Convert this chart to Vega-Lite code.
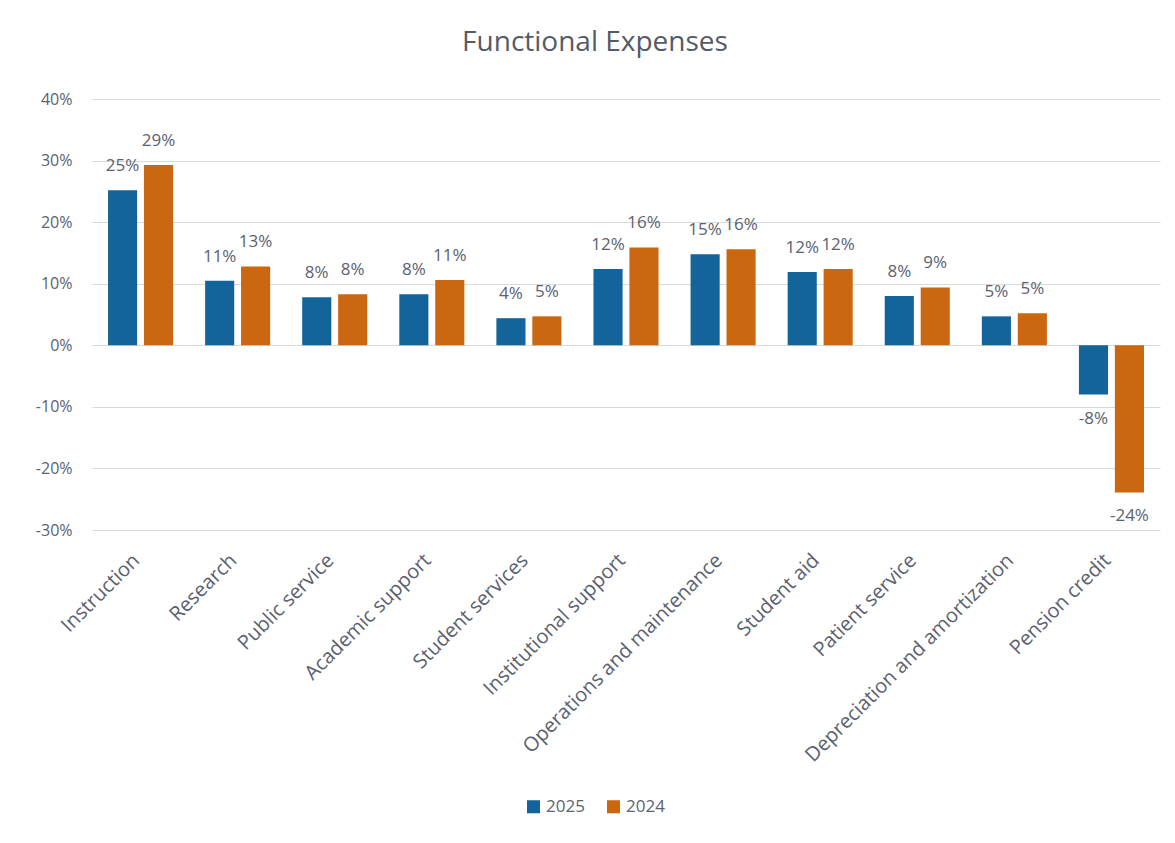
{
  "$schema": "https://vega.github.io/schema/vega-lite/v6.json",
  "autosize": {"type": "none"},
  "width": 1068,
  "height": 431,
  "padding": {"left": 92, "top": 99, "right": 15, "bottom": 313},
  "background": "white",
  "config": {
    "view": {"stroke": null},
    "locale": {"number": {"decimal": ".", "thousands": ",", "grouping": [3], "currency": ["$", ""], "minus": "-"}}
  },
  "title": {
    "text": "Functional Expenses",
    "fontSize": 28,
    "font": "Open Sans",
    "fontWeight": "normal",
    "color": "#545b68",
    "anchor": "middle",
    "offset": 34,
    "dx": -31
  },
  "data": {
    "values": [
      {"category": "Instruction", "year": "2025", "value": 0.252},
      {"category": "Instruction", "year": "2024", "value": 0.293},
      {"category": "Research", "year": "2025", "value": 0.105},
      {"category": "Research", "year": "2024", "value": 0.128},
      {"category": "Public service", "year": "2025", "value": 0.078},
      {"category": "Public service", "year": "2024", "value": 0.083},
      {"category": "Academic support", "year": "2025", "value": 0.083},
      {"category": "Academic support", "year": "2024", "value": 0.106},
      {"category": "Student services", "year": "2025", "value": 0.044},
      {"category": "Student services", "year": "2024", "value": 0.047},
      {"category": "Institutional support", "year": "2025", "value": 0.124},
      {"category": "Institutional support", "year": "2024", "value": 0.159},
      {"category": "Operations and maintenance", "year": "2025", "value": 0.148},
      {"category": "Operations and maintenance", "year": "2024", "value": 0.156},
      {"category": "Student aid", "year": "2025", "value": 0.119},
      {"category": "Student aid", "year": "2024", "value": 0.124},
      {"category": "Patient service", "year": "2025", "value": 0.080},
      {"category": "Patient service", "year": "2024", "value": 0.094},
      {"category": "Depreciation and amortization", "year": "2025", "value": 0.047},
      {"category": "Depreciation and amortization", "year": "2024", "value": 0.052},
      {"category": "Pension credit", "year": "2025", "value": -0.080},
      {"category": "Pension credit", "year": "2024", "value": -0.239}
    ]
  },
  "encoding": {
    "x": {
      "field": "category",
      "type": "nominal",
      "sort": null,
      "scale": {"paddingInner": 0.33, "paddingOuter": 0.165},
      "axis": {
        "title": null,
        "labelAngle": -45,
        "labelAlign": "right",
        "labelBaseline": "middle",
        "labelFontSize": 20,
        "labelFont": "Open Sans",
        "labelColor": "#5b6170",
        "labelPadding": 27,
        "labelOffset": -4,
        "labelLimit": 400,
        "domain": false,
        "ticks": false,
        "grid": false
      }
    },
    "xOffset": {
      "field": "year",
      "type": "nominal",
      "sort": ["2025", "2024"],
      "scale": {"paddingInner": 0.19, "paddingOuter": 0}
    },
    "y": {
      "field": "value",
      "type": "quantitative",
      "scale": {"domain": [-0.3, 0.4], "nice": false},
      "axis": {
        "title": null,
        "format": ".0%",
        "values": [-0.3, -0.2, -0.1, 0, 0.1, 0.2, 0.3, 0.4],
        "labelFontSize": 16,
        "labelFont": "Open Sans",
        "labelColor": "#5b6170",
        "labelPadding": 20,
        "domain": false,
        "ticks": false,
        "gridColor": "#d9d9d9",
        "gridWidth": 1
      }
    },
    "color": {
      "field": "year",
      "type": "nominal",
      "sort": ["2025", "2024"],
      "scale": {"domain": ["2025", "2024"], "range": ["#13649a", "#cb6611"]},
      "legend": {
        "title": null,
        "orient": "none",
        "legendX": 433,
        "legendY": 699,
        "direction": "horizontal",
        "symbolType": "square",
        "symbolSize": 170,
        "symbolStrokeWidth": 0,
        "labelFontSize": 17,
        "labelFont": "Open Sans",
        "labelColor": "#5b6170",
        "columnPadding": 20
      }
    }
  },
  "layer": [
    {"mark": {"type": "bar"}},
    {
      "transform": [{"filter": "datum.value >= 0"}],
      "mark": {"type": "text", "baseline": "alphabetic", "dy": -19, "fontSize": 17, "font": "Open Sans"},
      "encoding": {"text": {"field": "value", "format": ".0%"}, "color": {"value": "#5b6170"}}
    },
    {
      "transform": [{"filter": "datum.value < 0"}],
      "mark": {"type": "text", "baseline": "top", "dy": 16, "fontSize": 17, "font": "Open Sans"},
      "encoding": {"text": {"field": "value", "format": ".0%"}, "color": {"value": "#5b6170"}}
    }
  ]
}
